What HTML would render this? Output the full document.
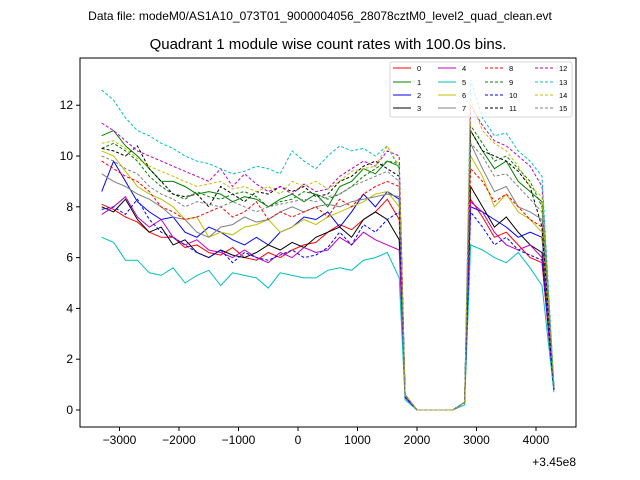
<!DOCTYPE html>
<html><head><meta charset="utf-8"><style>
body{margin:0;background:#fff;}
svg{display:block;font-family:"Liberation Sans","DejaVu Sans",sans-serif;}
</style></head><body>
<svg id="chart" width="640" height="480">
<rect x="0" y="0" width="640" height="480" fill="#fff"/>
<text x="320" y="20" font-size="12" text-anchor="middle">Data file: modeM0/AS1A10_073T01_9000004056_28078cztM0_level2_quad_clean.evt</text>
<text x="328" y="49" font-size="15" text-anchor="middle">Quadrant 1 module wise count rates with 100.0s bins.</text>
<g id="marks"></g>
<g id="axes"></g>
<text x="576" y="466" font-size="12" text-anchor="end">+3.45e8</text>
</svg>
<script>
const times=[-3300,-3100,-2900,-2700,-2500,-2300,-2100,-1900,-1700,-1500,-1300,-1100,-900,-700,-500,-300,-100,100,300,500,700,900,1100,1300,1500,1700,1800,2000,2200,2400,2600,2800,2900,3100,3300,3500,3700,3900,4100,4300];
const xTicks=[-3000,-2000,-1000,0,1000,2000,3000,4000];
const yTicks=[0,2,4,6,8,10,12];
const moduleNames=["0","1","2","3","4","5","6","7","8","9","10","11","12","13","14","15"];
const s0=[8.1,7.9,7.6,7.4,7.0,6.8,6.8,6.4,6.5,6.2,6.1,6.4,6.0,5.9,6.2,6.0,6.3,6.5,6.6,7.0,7.3,7.1,7.5,7.8,8.3,7.5,0.6,0,0,0,0,0.3,8.3,7.6,6.8,7.0,6.5,6.0,5.8,0.8];
const s1=[10.8,11.0,10.4,10.0,9.5,9.0,9.0,8.8,8.5,8.6,8.5,8.2,8.4,8.3,8.0,8.3,8.5,8.2,8.5,8.0,8.8,9.0,9.5,9.3,9.8,9.6,0.6,0,0,0,0,0.3,11.0,10.2,9.5,9.8,9.0,8.6,8.2,0.9];
const s2=[8.6,9.8,9.0,8.2,7.8,7.5,7.6,7.0,6.8,7.2,7.0,6.7,6.5,6.8,6.5,7.0,7.2,7.6,7.5,7.8,7.2,7.8,8.5,8.0,8.6,8.3,0.5,0,0,0,0,0.3,8.0,7.8,7.5,7.2,6.8,7.0,6.8,0.8];
const s3=[8.0,7.8,8.3,7.5,7.0,7.2,6.5,6.7,6.2,6.0,6.3,6.1,6.0,6.2,6.5,6.3,6.6,6.4,6.8,7.0,7.2,6.8,7.5,7.8,7.5,6.7,0.5,0,0,0,0,0.3,8.8,8.0,7.2,7.6,7.0,6.5,6.2,0.8];
const s4=[7.7,8.0,8.4,7.6,7.2,7.5,6.8,6.5,6.7,6.3,6.2,6.0,6.3,6.0,5.8,6.2,6.0,6.4,6.2,6.3,6.8,6.5,7.0,6.7,6.5,6.3,0.5,0,0,0,0,0.3,8.2,7.8,7.0,6.5,6.3,6.5,6.0,0.8];
const s5=[6.8,6.6,5.9,5.9,5.4,5.3,5.6,5.0,5.3,5.5,4.9,5.4,5.3,5.2,4.8,5.4,5.3,5.2,5.2,5.5,5.6,5.5,5.9,6.0,6.2,5.2,0.4,0,0,0,0,0.2,6.5,6.3,6.0,5.8,6.2,5.6,4.9,0.7];
const s6=[10.2,10.0,9.4,8.8,8.5,8.3,8.0,7.5,7.6,6.8,7.0,6.9,7.2,7.3,7.5,7.0,7.2,7.5,7.3,7.6,7.8,8.0,8.2,8.5,8.6,8.0,0.6,0,0,0,0,0.3,10.0,9.2,8.0,8.5,7.8,7.5,7.0,0.9];
const s7=[9.3,9.0,8.8,8.5,8.3,8.0,7.6,7.5,7.0,6.8,7.2,7.3,7.6,7.4,7.5,7.8,8.0,7.8,8.0,8.1,8.0,8.2,8.3,8.4,8.5,8.4,0.6,0,0,0,0,0.3,10.5,9.5,8.6,8.8,8.0,7.8,7.5,0.9];
const s8=[9.8,9.5,9.2,9.0,8.6,8.0,7.8,7.5,7.6,7.8,8.0,7.6,7.8,8.2,7.5,7.8,7.6,7.8,8.0,7.6,8.3,8.0,8.5,8.8,9.0,8.8,0.6,0,0,0,0,0.3,9.5,9.0,8.2,8.5,8.0,7.5,7.2,0.9];
const s9=[10.3,10.5,10.2,9.8,9.2,8.8,8.5,8.3,8.6,8.4,8.3,8.5,8.6,8.4,8.0,8.2,8.3,8.6,8.5,8.3,8.5,8.8,9.2,9.5,9.8,9.7,0.6,0,0,0,0,0.3,11.2,10.5,9.8,10.0,9.5,9.0,8.0,0.9];
const s10=[7.9,8.0,7.7,8.3,7.5,7.0,6.8,6.5,6.2,6.0,6.3,5.8,6.2,6.0,5.9,6.1,6.3,6.0,6.1,6.4,7.0,6.5,7.3,7.0,7.5,7.8,0.5,0,0,0,0,0.3,7.8,7.2,6.5,6.8,6.3,6.1,5.9,0.8];
const s11=[10.3,10.2,10.0,10.4,9.5,9.0,8.5,8.4,8.5,8.0,8.8,8.5,8.2,8.6,8.5,8.8,8.6,8.8,8.4,8.5,9.0,9.2,9.6,9.8,9.5,9.2,0.6,0,0,0,0,0.3,11.0,10.2,10.0,9.8,9.4,8.8,7.2,0.9];
const s12=[11.3,11.0,10.6,10.2,10.0,9.8,9.6,9.4,9.2,9.0,9.5,8.8,9.3,8.9,8.6,8.8,8.5,8.9,8.6,8.7,9.2,9.5,9.8,9.6,10.2,10.0,0.6,0,0,0,0,0.3,12.0,11.2,10.6,10.4,10.0,9.6,8.8,1.0];
const s13=[12.6,12.2,11.5,11.0,10.8,10.5,10.3,10.0,9.8,9.7,9.5,9.3,9.4,9.6,9.5,9.3,10.2,9.8,9.5,10.0,10.4,10.2,10.3,10.0,10.4,9.5,0.6,0,0,0,0,0.3,13.0,11.5,10.8,10.9,10.2,9.8,9.2,1.0];
const s14=[10.5,10.6,10.3,9.9,9.6,9.4,9.2,9.0,8.8,8.9,9.0,8.7,8.8,8.6,8.8,8.5,9.0,8.8,9.0,8.7,9.0,9.4,9.5,9.6,10.4,9.6,0.6,0,0,0,0,0.3,12.2,11.0,10.5,10.2,9.6,8.8,8.4,1.0];
const s15=[10.0,9.8,9.5,9.3,8.8,8.5,8.3,8.0,8.2,8.1,8.0,8.2,8.0,7.8,8.0,8.1,8.2,8.3,8.2,8.4,8.5,8.8,9.0,9.2,9.4,9.0,0.6,0,0,0,0,0.3,10.5,10.0,9.2,9.3,8.8,8.3,7.8,0.9];
const series=[s0,s1,s2,s3,s4,s5,s6,s7,s8,s9,s10,s11,s12,s13,s14,s15];

const colors=["#ff0000","#008000","#0000ff","#000000","#bf00bf","#00bfbf","#bfbf00","#808080"];
const L=80,R=576,T=58,B=427;
const X0=-3664,X1=4672,Y0=-0.67,Y1=13.86;
function xs(v){return L+(v-X0)/(X1-X0)*(R-L);}
function ys(v){return B-(v-Y0)/(Y1-Y0)*(B-T);}
const NS="http://www.w3.org/2000/svg";
function mk(tag,attrs,parent){const e=document.createElementNS(NS,tag);for(const k in attrs)e.setAttribute(k,attrs[k]);parent.appendChild(e);return e;}
const marks=document.getElementById('marks');
const axes=document.getElementById('axes');
series.forEach((s,i)=>{
  const d=s.map((v,j)=>(j?'L':'M')+xs(times[j]).toFixed(1)+','+ys(v).toFixed(1)).join('');
  const p=mk('path',{d:d,fill:'none',stroke:colors[i%8],'stroke-width':1},marks);
  if(i>=8)p.setAttribute('stroke-dasharray','3,2');
  
  
});
const frame=mk('rect',{x:L,y:T,width:R-L,height:B-T,fill:'none',stroke:'#000','stroke-width':1},axes);


xTicks.forEach(t=>{
  const x=xs(t);
  mk('line',{x1:x,x2:x,y1:B,y2:B+4,stroke:'#000'},axes);
  const tx=mk('text',{x:x,y:B+17,'font-size':12,'text-anchor':'middle'},axes);
  tx.textContent=(t<0?'\u2212'+(-t):t);
  
  
});
yTicks.forEach(t=>{
  const y=ys(t);
  mk('line',{x1:L-4,x2:L,y1:y,y2:y,stroke:'#000'},axes);
  const tx=mk('text',{x:L-7,y:y+4,'font-size':12,'text-anchor':'end'},axes);
  tx.textContent=t;
  
  
});
const lg=mk('g',{},axes);


mk('rect',{x:390,y:62,width:182,height:55,rx:2,fill:'#fff','fill-opacity':0.8,stroke:'#ccc','stroke-width':0.8},lg);
const colX=[393,438,485,535];
const rowY=[68,82,95,108];
moduleNames.forEach((n,i)=>{
  const c=Math.floor(i/4),r=i%4;
  const ln=mk('line',{x1:colX[c],x2:colX[c]+18,y1:rowY[r],y2:rowY[r],stroke:colors[i%8],'stroke-width':0.9},lg);
  if(i>=8)ln.setAttribute('stroke-dasharray','3,2');
  const tx=mk('text',{x:colX[c]+24,y:rowY[r]+3,'font-size':7.5},lg);
  tx.textContent=n;
  
  
});
</script>
</body></html>
